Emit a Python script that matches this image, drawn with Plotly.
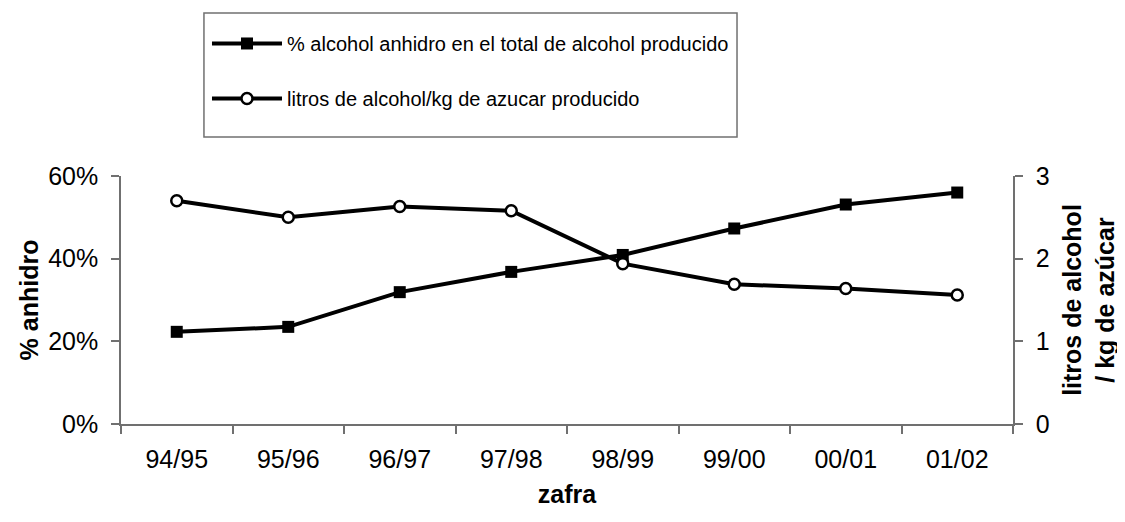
import plotly.graph_objects as go

zafras = ['94/95', '95/96', '96/97', '97/98', '98/99', '99/00', '00/01', '01/02']
pct_anhidro = [0.223, 0.235, 0.319, 0.368, 0.409, 0.473, 0.531, 0.560]
litros_kg = [2.70, 2.50, 2.63, 2.58, 1.94, 1.69, 1.64, 1.56]

FONT = 'Arial, Liberation Sans, sans-serif'
AXIS_GREY = '#707070'

fig = go.Figure()
fig.add_trace(go.Scatter(
    x=zafras, y=pct_anhidro, mode='lines+markers',
    name='% alcohol anhidro en el total de alcohol producido',
    legendgroup='a',
    line=dict(color='black', width=4),
    marker=dict(symbol='square', size=12, color='black'),
))
fig.add_trace(go.Scatter(
    x=zafras, y=litros_kg, mode='lines+markers', yaxis='y2',
    name='litros de alcohol/kg de azucar producido',
    legendgroup='b',
    line=dict(color='black', width=4),
    marker=dict(symbol='circle', size=11, color='white', line=dict(color='black', width=2.5)),
))

tick_common = dict(showgrid=False, zeroline=False, showline=True, linecolor=AXIS_GREY,
                   linewidth=1.5, tickcolor=AXIS_GREY, tickwidth=1.5, ticklen=8)

# the page adds an 8px body margin, so the figure is 8px smaller and shifted
fig.update_layout(
    width=1117, height=514,
    paper_bgcolor='white', plot_bgcolor='white',
    font=dict(family=FONT, size=25, color='black'),
    margin=dict(l=113, r=112, t=168, b=98, autoexpand=False),
    xaxis=dict(
        type='category', ticks='outside', tickson='boundaries', range=[-0.5, 7.5],
        tickfont=dict(size=25), ticklabelstandoff=12,
        title=dict(text='<b>zafra</b>', font=dict(size=25), standoff=14),
        **tick_common,
    ),
    # inside half of the crossing ticks
    xaxis2=dict(
        overlaying='x', range=[-0.5, 7.5], tick0=-0.5, dtick=1, ticks='inside',
        showticklabels=False, **tick_common,
    ),
    yaxis=dict(
        range=[0, 0.6], dtick=0.2, tickformat='.0%', ticks='outside',
        tickfont=dict(size=25), ticklabelstandoff=8,
        title=dict(text='<b>% anhidro</b>', font=dict(size=25), standoff=2),
        **tick_common,
    ),
    yaxis3=dict(
        overlaying='y', range=[0, 0.6], dtick=0.2, ticks='inside',
        showticklabels=False, **tick_common,
    ),
    yaxis2=dict(
        range=[0, 3], dtick=1, overlaying='y', side='right', ticks='outside',
        tickfont=dict(size=25), ticklabelstandoff=8,
        title=dict(text='<b>litros de alcohol<br>/ kg de azúcar</b>', font=dict(size=25), standoff=15),
        **tick_common,
    ),
    yaxis4=dict(
        overlaying='y', side='right', range=[0, 3], dtick=1, ticks='inside',
        showticklabels=False, **tick_common,
    ),
    legend=dict(
        x=0.0964, y=1.613, xanchor='left', yanchor='top',
        borderwidth=0, bgcolor='rgba(0,0,0,0)',
        font=dict(size=20), tracegroupgap=26, traceorder='grouped',
        itemwidth=70,
    ),
    # legend frame
    shapes=[dict(type='rect', xref='paper', yref='paper', x0=0.093, x1=0.6906, y0=1.157, y1=1.657,
                 line=dict(color=AXIS_GREY, width=1.5), fillcolor='rgba(0,0,0,0)')],
    showlegend=True,
)

fig.write_html('out.html')
